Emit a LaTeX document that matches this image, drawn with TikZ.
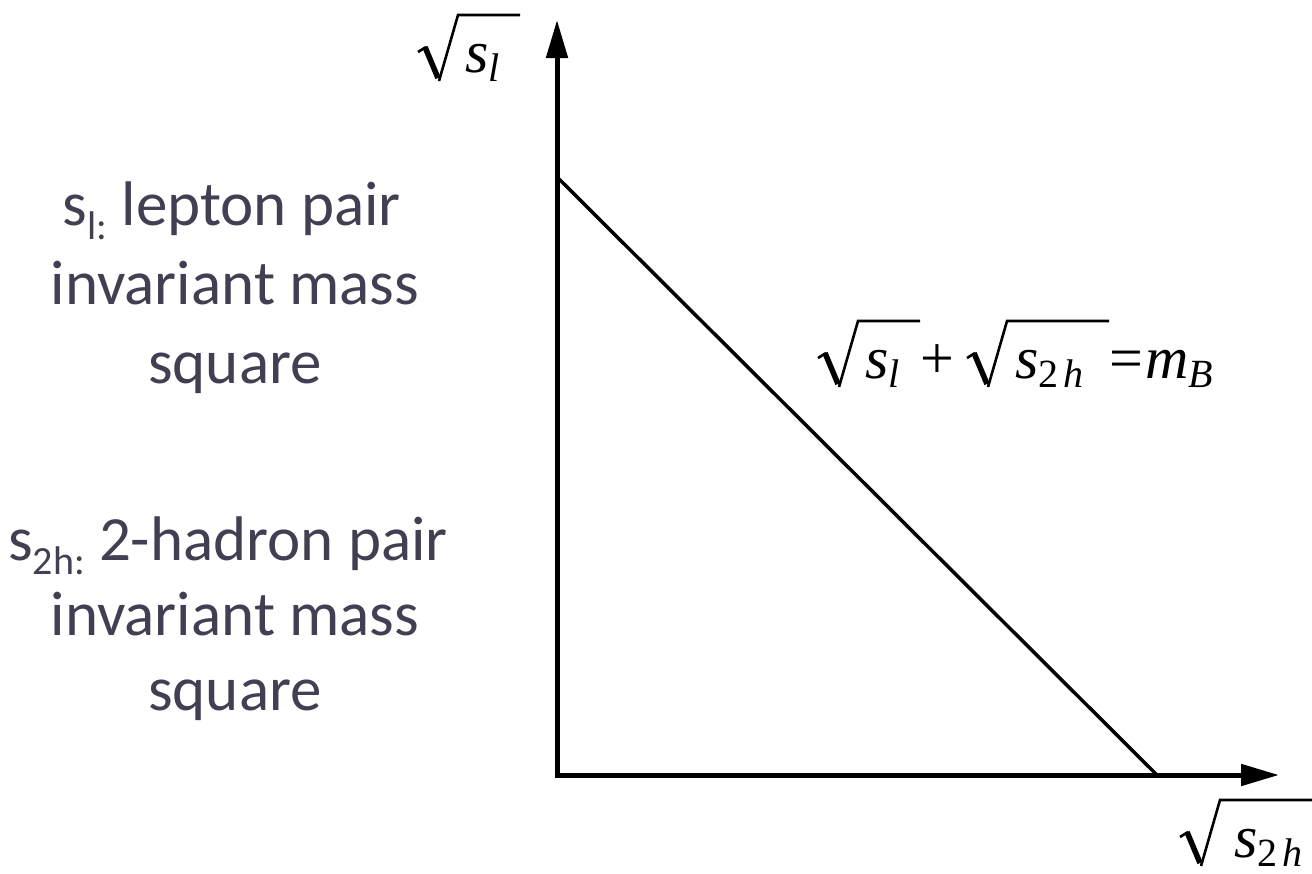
\documentclass[tikz,border=0pt]{standalone}
\usepackage{fontspec}
\usetikzlibrary{arrows.meta}
\newfontfamily\carlito{Carlito}
\newfontfamily\tms{Liberation Serif}
\definecolor{slate}{RGB}{64,64,82}
\tikzset{
  axis/.style={line width=5pt, {Triangle[length=38pt,width=21pt]}-{Triangle[length=38pt,width=21pt]}},
  bound/.style={line width=3.5pt},
  desc/.style={inner sep=0pt, anchor=base, text=slate, font=\carlito\fontsize{63}{70}\selectfont},
  mtxt/.style={inner sep=0pt, anchor=base west, font=\tms\fontsize{60}{66}\selectfont},
  radthin/.style={line width=2.6pt, line join=miter},
  radthick/.style={line width=5.5pt}
}
\newcommand\subtxt[1]{\raisebox{-14pt}{\fontsize{40}{40}\selectfont #1}}
\newcommand\msub[1]{\raisebox{-9pt}{\fontsize{40}{40}\selectfont #1}}
% radical sign: #1,#2 = left end at the baseline, #3 = length of the bar
\newcommand\rootsign[3]{%
  \begin{scope}[shift={(#1,#2)}]
    \draw[radthin] (0,-20) -- (8,-25);
    \draw[radthick] (7,-25) -- (20,6);
    \draw[radthin] (21,9) -- (40,-57) -- ++(#3,0);
  \end{scope}}
\begin{document}
\begin{tikzpicture}[x=1pt,y=-1pt]
\useasboundingbox (0,0) rectangle (1312,873);
\coordinate (ytop) at (557,20);
\coordinate (O) at (557,775);
\coordinate (xend) at (1279,775);
\coordinate (A) at (557,177);
\coordinate (B) at (1157,775);
\draw[axis] (ytop) -- (O) -- (xend);
\draw[bound] (A) -- (B);
% y axis label
\rootsign{418}{72}{62}
\node[mtxt] (ylbl) at (465,72) {\itshape s\msub{l}};
% x axis label
\rootsign{1180}{857}{120}
\node[mtxt] (xlbl) at (1234,857) {\itshape s\msub{\upshape 2\hspace{5pt}\itshape h}};
% boundary equation
\rootsign{818}{378}{62}
\node[mtxt] (eqa) at (865,378) {\itshape s\msub{l}};
\node[mtxt, anchor=base, font=\tms\fontsize{60}{60}\selectfont] (plus) at (937,378) {+};
\rootsign{967}{378}{102}
\node[mtxt] (eqb) at (1015,378) {\itshape s\msub{\upshape 2\hspace{5pt}\itshape h}};
\node[mtxt] (eqc) at (1109,378) {=\kern2pt\itshape m\msub{B}};
% description text
\node[desc] (d1a) at (232,225) {s\subtxt{l:} lepton pair};
\node[desc] (d1b) at (235,304) {invariant mass};
\node[desc] (d1c) at (235,383) {square};
\node[desc] (d2a) at (228,560) {s\subtxt{2h:} 2-hadron pair};
\node[desc] (d2b) at (235,635) {invariant mass};
\node[desc] (d2c) at (235,710) {square};
\end{tikzpicture}
\end{document}
